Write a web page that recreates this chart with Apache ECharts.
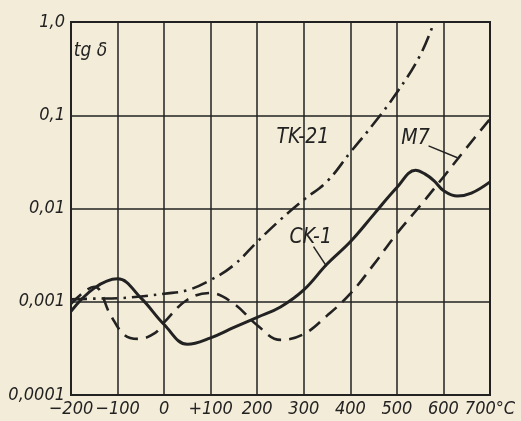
<!DOCTYPE html>
<html><head><meta charset="utf-8">
<script src="https://cdn.jsdelivr.net/npm/echarts@6/dist/echarts.min.js"></script>
<style>html,body{margin:0;padding:0;background:#f3ecd8;}#c{width:521px;height:421px;}</style>
</head><body><div id="c"></div>
<script>
// ---- data ----
const xTickValues = [-200, -100, 0, 100, 200, 300, 400, 500, 600, 700];
const xTickLabels = ['−200', '−100', '0', '+100', '200', '300', '400', '500', '600', '700°C'];
const yTickValues = [0.0001, 0.001, 0.01, 0.1, 1];
const yTickLabels = ['0,0001', '0,001', '0,01', '0,1', '1,0'];

const ck1Temps  = [-200, -150, -100, -50, 0, 50, 100, 150, 200, 250, 300, 350, 400, 450, 500, 540, 560, 580, 600, 630, 660, 700];
const ck1Values = [0.00079, 0.0014, 0.00176, 0.0011, 0.00057, 0.00035, 0.00041, 0.00053, 0.00068, 0.00088, 0.00134, 0.00254, 0.0044, 0.0086, 0.0168, 0.0257, 0.0235, 0.0198, 0.0156, 0.0136, 0.0146, 0.0193];

const m7Temps  = [-200, -150, -115, -85, -55, -20, 0, 50, 100, 150, 200, 250, 300, 350, 400, 450, 500, 550, 600, 650, 700];
const m7Values = [0.00095, 0.00145, 0.00072, 0.00044, 0.0004, 0.00046, 0.0006, 0.00105, 0.00124, 0.00095, 0.00056, 0.00039, 0.00045, 0.00071, 0.00122, 0.0025, 0.0054, 0.0107, 0.0218, 0.045, 0.091];

const tk21Temps  = [-200, -150, -100, -50, 0, 50, 100, 150, 200, 250, 300, 350, 400, 450, 500, 550, 580];
const tk21Values = [0.00106, 0.00108, 0.00109, 0.00114, 0.00122, 0.00133, 0.00171, 0.00248, 0.0044, 0.0076, 0.0124, 0.0195, 0.040, 0.081, 0.175, 0.44, 1.0];

const seriesNames = ['CK-1', 'M7', 'TK-21'];
const axisTitle = 'tg δ';

// ---- annotation anchors (data coordinates) ----
const notes = [
  { text: 'TK-21', at: [298, 0.057] },
  { text: 'M7', at: [540, 0.056], leader: [[568, 0.047], [630, 0.035]] },
  { text: 'CK-1', at: [315, 0.0049], leader: [[321, 0.0039], [349, 0.0024]] },
];

const ink = '#222';
const fontFam = "'DejaVu Sans Condensed','Liberation Sans Narrow','Roboto',sans-serif";

const pairs = (t, v) => t.map((x, i) => [x, v[i]]);
const chart = echarts.init(document.getElementById('c'), null, { renderer: 'canvas' });

chart.setOption({
  backgroundColor: '#f3ecd8',
  animation: false,
  grid: { left: 71, right: 31, top: 22, bottom: 26, show: true, borderColor: ink, borderWidth: 2, backgroundColor: 'transparent' },
  xAxis: {
    type: 'value', min: -200, max: 700, interval: 100,
    axisLine: { show: true, onZero: false, lineStyle: { color: ink, width: 2 } },
    axisTick: { show: false },
    splitLine: { show: true, lineStyle: { color: ink, width: 1.5 } },
    axisLabel: {
      margin: 5, color: ink, fontSize: 18, fontStyle: 'italic', fontFamily: fontFam,
      formatter: v => { const i = xTickValues.indexOf(Math.round(v)); return i >= 0 ? xTickLabels[i] : ''; }
    }
  },
  yAxis: {
    type: 'log', logBase: 10, min: 0.0001, max: 1,
    axisLine: { show: true, onZero: false, lineStyle: { color: ink, width: 2 } },
    axisTick: { show: false },
    minorSplitLine: { show: false },
    splitLine: { show: true, lineStyle: { color: ink, width: 1.5 } },
    axisLabel: {
      margin: 6, color: ink, fontSize: 18, fontStyle: 'italic', fontFamily: fontFam,
      formatter: v => {
        const i = yTickValues.findIndex(t => Math.abs(Math.log10(t) - Math.log10(v)) < 0.01);
        return i >= 0 ? yTickLabels[i] : '';
      }
    }
  },
  series: [
    { name: seriesNames[0], type: 'line', smooth: 0.4, showSymbol: false, data: pairs(ck1Temps, ck1Values),
      lineStyle: { color: ink, width: 3 }, z: 5 },
    { name: seriesNames[1], type: 'line', smooth: 0.4, showSymbol: false, data: pairs(m7Temps, m7Values),
      lineStyle: { color: ink, width: 2.6, type: [14, 8] }, z: 5 },
    { name: seriesNames[2], type: 'line', smooth: 0.4, showSymbol: false, data: pairs(tk21Temps, tk21Values),
      lineStyle: { color: ink, width: 2.6, type: [16, 6, 2.5, 6] }, z: 5 },
  ]
});

const px = (p) => chart.convertToPixel({ gridIndex: 0 }, p);
const graphics = [];
const tg = px([-194, 0.49]);
graphics.push({ type: 'text', x: tg[0], y: tg[1], z: 10,
  style: { text: axisTitle, fill: ink, font: "italic 19px " + fontFam, align: 'left', verticalAlign: 'middle' } });
notes.forEach(n => {
  const c = px(n.at);
  graphics.push({ type: 'text', x: c[0], y: c[1], z: 10,
    style: { text: n.text, fill: ink, font: "italic 21px " + fontFam, align: 'center', verticalAlign: 'middle' } });
  if (n.leader) {
    const a = px(n.leader[0]), b = px(n.leader[1]);
    graphics.push({ type: 'line', z: 10, shape: { x1: a[0], y1: a[1], x2: b[0], y2: b[1] }, style: { stroke: ink, lineWidth: 1.5 } });
  }
});
chart.setOption({ graphic: graphics });
</script></body></html>
